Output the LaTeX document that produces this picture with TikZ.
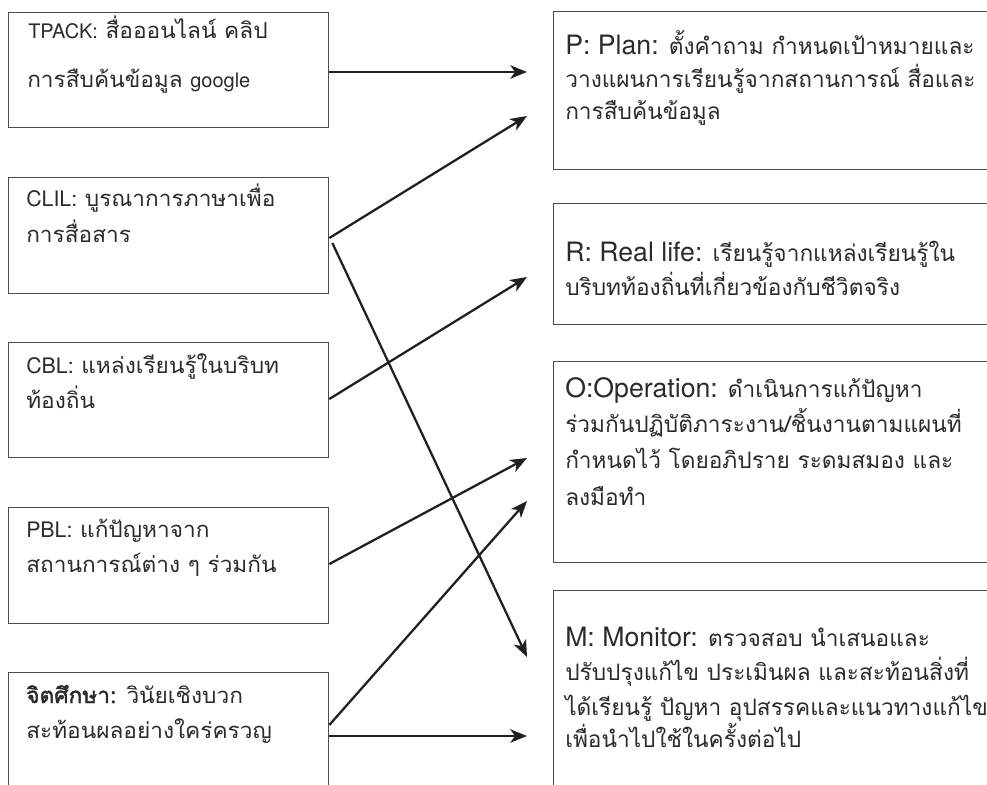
\documentclass[tikz,border=0pt]{standalone}
\usepackage{fontspec}
\setmainfont{TeX Gyre Heros}
\newfontfamily\lat{TeX Gyre Heros}
\newfontfamily\thaiL[Script=Thai,FakeStretch=1.03]{Loma}
\newfontfamily\thaiR[Script=Thai]{Loma}
\newfontfamily\thaiLB[Script=Thai,FakeStretch=1.03,FakeBold=2]{Loma}
\usetikzlibrary{arrows.meta,calc}
\definecolor{boxgray}{HTML}{4D4D4D}
\definecolor{ink}{HTML}{231F20}
\definecolor{txt}{HTML}{2B2B2B}
\begin{document}
\begin{tikzpicture}[x=0.75pt,y=-0.75pt,
  box/.style={draw=boxgray, line width=1pt, inner sep=0pt, anchor=north west, minimum width=240pt},
  rbox/.style={draw=boxgray, line width=1pt, inner sep=0pt, anchor=north west, minimum width=335pt},
  ltxt/.style={anchor=base west, inner sep=0pt, text=txt, font=\thaiL\fontsize{16.5}{18}\selectfont},
  rtxt/.style={anchor=base west, inner sep=0pt, text=txt, font=\thaiR\fontsize{17}{19}\selectfont},
  arr/.style={draw=ink, line width=1.7pt, -{Stealth[length=12.5pt, width=10pt, inset=3.5pt]}}]
\useasboundingbox (0,0) rectangle (987,784);
\clip (0,0) rectangle (987,784);
\fill[white] (0,0) rectangle (987,784);

% left boxes
\node[box, minimum height=86.25pt] (tpack) at (8,12) {};
\node[box, minimum height=87pt] (clil) at (8,177) {};
\node[box, minimum height=86.25pt] (cbl) at (8,342) {};
\node[box, minimum height=87pt] (pbl) at (8,507) {};
\node[box, minimum height=110pt] (jit) at (8,672) {};
% right boxes
\node[rbox, minimum height=118.5pt] (pp) at (553,11) {};
\node[rbox, minimum height=90.75pt] (rr) at (553,203) {};
\node[rbox, minimum height=150.75pt] (oo) at (553,361) {};
\node[rbox, minimum height=150pt] (mm) at (553,590) {};

% left texts
\node[ltxt] (tpack1) at (28,39) {{\lat\fontsize{15}{18}\selectfont TPACK:} สื่อออนไลน์ คลิป};
\node[ltxt] (tpack2) at (27,88) {การสืบค้นข้อมูล {\lat\fontsize{15}{18}\selectfont google}};
\node[ltxt] (clil1) at (26,207) {{\lat\fontsize{16}{18}\selectfont CLIL:} บูรณาการภาษาเพื่อ};
\node[ltxt] (clil2) at (26,243) {การสื่อสาร};
\node[ltxt] (cbl1) at (26,373) {{\lat\fontsize{16}{18}\selectfont CBL:} แหล่งเรียนรู้ในบริบท};
\node[ltxt] (cbl2) at (26,408) {ท้องถิ่น};
\node[ltxt] (pbl1) at (26,537) {{\lat\fontsize{16}{18}\selectfont PBL:} แก้ปัญหาจาก};
\node[ltxt] (pbl2) at (26,572) {สถานการณ์ต่าง ๆ ร่วมกัน};
\node[ltxt] (jit1) at (26,703) {{\thaiLB จิตศึกษา:} วินัยเชิงบวก};
\node[ltxt] (jit2) at (26,738) {สะท้อนผลอย่างใคร่ครวญ};

% right texts
\node[rtxt] (pp1) at (565,55) {{\lat\fontsize{20}{22}\selectfont P: Plan:} ตั้งคำถาม กำหนดเป้าหมายและ};
\node[rtxt] (pp2) at (565,88) {วางแผนการเรียนรู้จากสถานการณ์ สื่อและ};
\node[rtxt] (pp3) at (565,120) {การสืบค้นข้อมูล};
\node[rtxt] (rr1) at (565,261) {{\lat\fontsize{20}{22}\selectfont R: Real life:} เรียนรู้จากแหล่งเรียนรู้ใน};
\node[rtxt] (rr2) at (565,295) {บริบทท้องถิ่นที่เกี่ยวข้องกับชีวิตจริง};
\node[rtxt] (oo1) at (565,397) {{\lat\fontsize{20}{22}\selectfont O:Operation:} ดำเนินการแก้ปัญหา};
\node[rtxt] (oo2) at (565,432) {ร่วมกันปฏิบัติภาระงาน/ชิ้นงานตามแผนที่};
\node[rtxt] (oo3) at (565,468) {กำหนดไว้ โดยอภิปราย ระดมสมอง และ};
\node[rtxt] (oo4) at (565,505) {ลงมือทำ};
\node[rtxt] (mm1) at (565,646) {{\lat\fontsize{20}{22}\selectfont M: Monitor:} ตรวจสอบ นำเสนอและ};
\node[rtxt] (mm2) at (565,680) {ปรับปรุงแก้ไข ประเมินผล และสะท้อนสิ่งที่};
\node[rtxt] (mm3) at (565,715) {ได้เรียนรู้ ปัญหา อุปสรรคและแนวทางแก้ไข};
\node[rtxt] (mm4) at (565,747) {เพื่อนำไปใช้ในครั้งต่อไป};

% arrow ends
\coordinate (e1) at (527,72);
\coordinate (e2) at (527,116);
\coordinate (e3) at (527,657);
\coordinate (e4) at (527,277);
\coordinate (e5) at (527,458);
\coordinate (e6) at (527,501);
\coordinate (e7) at (527,736);

\draw[arr] ($(tpack.north east)+(0,60)$) -- (e1);
\draw[arr] ($(clil.north east)+(0,61)$) -- (e2);
\draw[arr] ($(clil.north east)+(3,66)$) -- (e3);
\draw[arr] ($(cbl.north east)+(0,57)$) -- (e4);
\draw[arr] ($(pbl.north east)+(0,57)$) -- (e5);
\draw[arr] ($(jit.north east)+(0,53)$) -- (e6);
\draw[arr] ($(jit.north east)+(0,64)$) -- (e7);
\end{tikzpicture}
\end{document}
